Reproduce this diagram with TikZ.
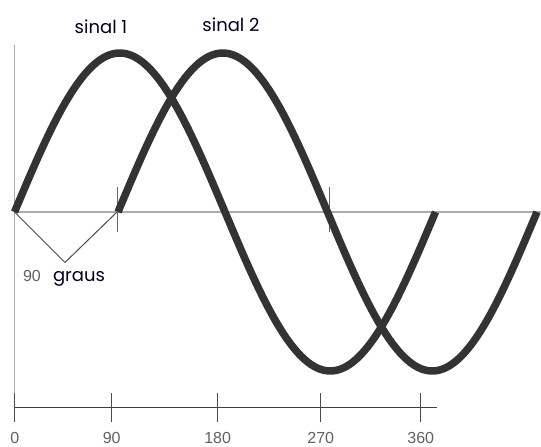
\documentclass[tikz,border=0pt]{standalone}
\usepackage{fontspec}
\setmainfont{Liberation Sans}
\newfontfamily\handfont{Poppins}
\begin{document}
\begin{tikzpicture}[x=1pt,y=1pt,
  sig/.style={line width=7.5pt, color=black!80},
  midaxis/.style={line width=1.8pt, color=black!33},
  botaxis/.style={line width=1.3pt, color=black!75},
  tickmark/.style={line width=1.3pt, color=black!70},
  numlab/.style={font=\fontsize{16}{16}\selectfont, text=black!62, inner sep=0pt},
  handlab/.style={font=\handfont\fontsize{18}{18}\selectfont, text=black!85!blue, inner sep=0pt}]
\useasboundingbox (0,0) rectangle (541,447);
% coordinates
\coordinate (vtop) at (14.5,402);
\coordinate (vbot) at (14.5,29);
\coordinate (o) at (14.5,235);
\coordinate (mright) at (541,235);
\coordinate (q1) at (117,235);
\coordinate (apex) at (65,184.5);
% vertical axis
\draw[midaxis] (vtop) -- (vbot);
% middle axis
\draw[midaxis] (o) -- (mright);
% ticks on middle axis
\coordinate (t1a) at (117,260); \coordinate (t1b) at (117,215);
\coordinate (t3a) at (329,260); \coordinate (t3b) at (329,215);
\draw[line width=1pt, color=black!60] (t1a) -- (t1b);
\draw[line width=1pt, color=black!60] (t3a) -- (t3b);
% signals
\draw[sig] plot[domain=0:360, samples=120] ({14.5+\x/360*421}, {235+159*sin(\x)});
\draw[sig] plot[domain=0:360, samples=120] ({118+\x/360*419}, {235+159*sin(\x)});
% 90 graus bracket
\draw[line width=1pt, color=black!70] (o) -- (apex) -- (q1);
\node[numlab, anchor=base] (n90g) at (32,165) {90};
\node[handlab, anchor=base] (graus) at (79,165) {graus};
% labels
\node[handlab, anchor=base] (s1) at (101,413) {sinal 1};
\node[handlab, anchor=base] (s2) at (231,415) {sinal 2};
% bottom axis
\coordinate (b0) at (14.5,39.7);
\coordinate (bend) at (436.7,39.7);
\draw[botaxis] (b0) -- (bend);
\foreach \xx/\lab [count=\i] in {14.7/0,111.7/90,217.7/180,320.7/270,420.7/360}{
  \coordinate (tk\i a) at (\xx,54.3);
  \coordinate (tk\i b) at (\xx,25.3);
  \draw[tickmark] (tk\i a) -- (tk\i b);
  \node[numlab, anchor=base] (lab\i) at (\xx,3.5) {\lab};
}
\end{tikzpicture}
\end{document}
